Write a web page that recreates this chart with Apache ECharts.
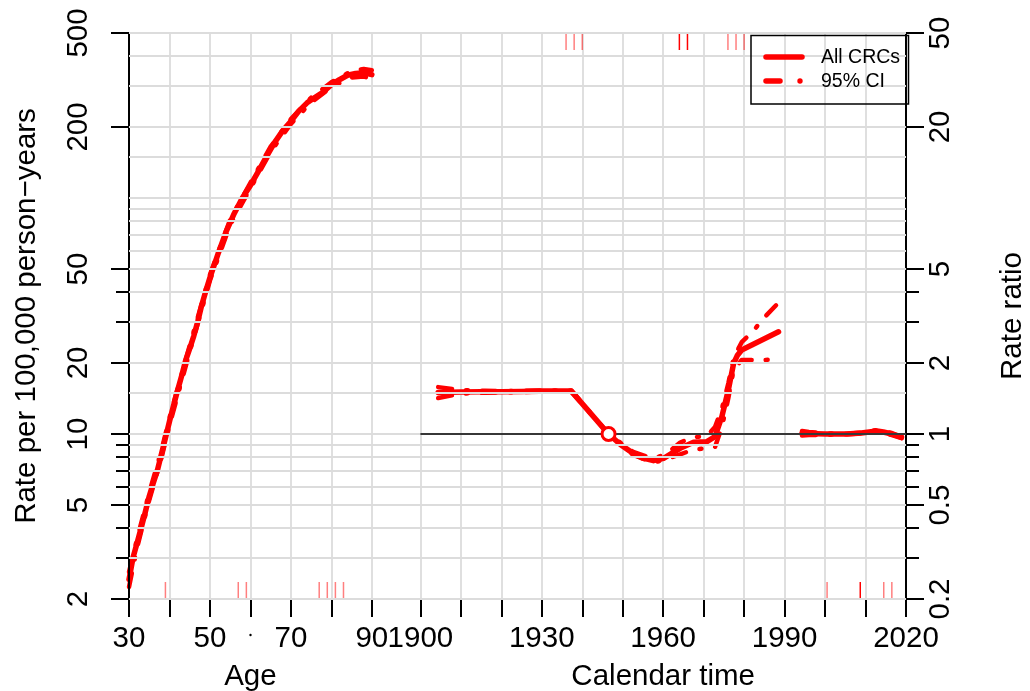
<!DOCTYPE html>
<html><head><meta charset="utf-8">
<script src="https://cdn.jsdelivr.net/npm/echarts@6/dist/echarts.min.js"></script>
<style>html,body{margin:0;padding:0;background:#fff}#c{width:1030px;height:691px}</style>
</head><body><div id="c"></div>
<script>
// ---- data ----
const ages = [30,31,32,33,34,35,36,37,38,39,40,41,42,43,44,45,46,47,48,49,50,52,54,56,58,60,62,64,66,68,70,72,74,76,78,80,82,84,86,88,90];
const ageRate = [2.42,3.0,3.45,4.0,4.65,5.45,6.2,7.0,8.2,9.6,11.3,13.2,15.3,17.6,20.5,23.0,26.0,30.0,35.3,40.5,46.0,58,72,86,100,113,130,150,172,193,211,234,253,267,281,302,317,331,337,339,333];
const ageCI = [30,32,35,38,40,45,50,55,60,65,70,75,80,85,88,90];
const ageHi = [2.6,3.6,5.65,8.5,11.7,23.7,47.3,81,116,165,216,266,309,345,352,348];
const ageLo = [2.25,3.3,5.25,7.9,10.9,22.3,44.7,77,110,157,206,254,295,324,327,320];

const cohortYear = [1904.4,1910,1915,1920,1925,1930,1937.3,1946.5,1949.5,1952.6,1955,1957.6,1960.1,1962,1964.2,1967.5,1970.8,1972.8,1974.5,1976.1,1977.4,1978.3,1979.4,1988.5];
const cohortRR = [1.50,1.505,1.51,1.51,1.515,1.52,1.52,1.0,0.90,0.828,0.79,0.771,0.789,0.825,0.87,0.922,0.928,0.974,1.184,1.536,1.99,2.15,2.27,2.71];
const cohortCIYear = [1904.4,1908,1912,1916,1920,1925,1930,1937.3,1946.5,1952.6,1957.6,1961,1964.2,1967.5,1970.8,1972.8,1974.5,1976.1,1977.4,1979.4,1982,1985,1988.5];
const cohortHi = [1.58,1.55,1.53,1.525,1.52,1.525,1.53,1.53,1.0,0.84,0.785,0.83,0.92,0.97,0.98,1.07,1.28,1.64,2.10,2.45,2.70,3.12,3.6];
const cohortLo = [1.42,1.46,1.49,1.495,1.50,1.505,1.51,1.51,1.0,0.815,0.757,0.785,0.82,0.86,0.87,0.88,1.07,1.42,1.87,2.06,2.06,2.06,2.07];

const periodYear = [1994.3,1996,2000,2005.4,2009,2012.8,2014.4,2016.5,2018.9];
const periodRR = [1.007,1.005,1.0,1.0,1.01,1.03,1.02,1.0,0.968];
const periodHi = [1.03,1.02,1.007,1.003,1.015,1.04,1.03,1.01,0.975];
const periodLo = [0.985,0.99,0.993,0.997,1.005,1.02,1.01,0.99,0.96];

const refPoint = [1946.5, 1];

const ageRug = [39,57,59,77,79,81,83];
const yearRugBottomFaint = [2000.5,2014.5,2016.5];
const yearRugBottomStrong = [2008.7];
const yearRugTopFaint = [1936,1938,1940,1976,1978,1980];
const yearRugTopStrong = [1964,1966];

const rateMajor = [2,5,10,20,50,200,500];
const rateMinor = [3,4,6,7,8,9,30,40];
const rrMajor = [0.2,0.5,1,2,5,20,50];
const rrMinor = [0.3,0.4,0.6,0.7,0.8,0.9,3,4];
const rateGrid = [2,3,4,5,6,7,8,9,10,15,20,30,40,50,60,70,80,90,100,150,200,300,400,500];
const ageLabels = [30,50,70,90];
const yearLabels = [1900,1930,1960,1990,2020];

const legendNames = ['All CRCs','95% CI'];

// ---- chart ----
const RED = '#ff0000';
const FONT = 'Liberation Sans';
const FS = 29.5;
const PX = 777/192;
const zip = (a,b)=>a.map((v,i)=>[v,b[i]]);
const dash = [14,14,2,14];

const chart = echarts.init(document.getElementById('c'), null, {renderer:'canvas'});

function rug(vals, xi, yi, yBase, dir, color){
  return {type:'custom', xAxisIndex:xi, yAxisIndex:yi, z:4, silent:true,
    data: vals.map(v=>[v, yBase]),
    renderItem:(p, api)=>{
      const c = api.coord([api.value(0), api.value(1)]);
      return {type:'line', shape:{x1:c[0], y1:c[1], x2:c[0], y2:c[1]+dir*17},
        style:{stroke:color, lineWidth:1.5}};
    }};
}

const ciLine = (data, xi, yi)=>({type:'line', xAxisIndex:xi, yAxisIndex:yi, data, showSymbol:false, z:3,
  lineStyle:{color:RED, width:4.5, type:dash, cap:'round', join:'round'}, silent:true});
const mainLine = (data, xi, yi)=>({type:'line', xAxisIndex:xi, yAxisIndex:yi, data, showSymbol:false, z:3,
  lineStyle:{color:RED, width:5.5, cap:'round', join:'round'}, silent:true});

const baseY = {type:'log', logBase:10, splitLine:{show:false}, axisLine:{show:false}};
const gridBase = {top:33, height:566, containLabel:false, outerBoundsMode:'none'};

const option = {
  animation:false,
  backgroundColor:'#fff',
  textStyle:{fontFamily:FONT},
  grid:[
    Object.assign({}, gridBase, {left:129, width:777, show:true, borderColor:'#000', borderWidth:2, backgroundColor:'transparent', z:5}),
    Object.assign({}, gridBase, {left:129, width:60*PX}),
    Object.assign({}, gridBase, {left:129+72*PX, width:120*PX})
  ],
  xAxis:[
    {gridIndex:0, type:'value', min:0, max:1, show:false},
    {gridIndex:1, type:'value', min:30, max:90, interval:10,
      axisLine:{show:false},
      axisTick:{show:true, length:18, lineStyle:{color:'#000', width:2}},
      axisLabel:{fontSize:FS, color:'#000', margin:25, fontFamily:FONT,
        formatter:v=>ageLabels.includes(v)?String(v):''},
      splitLine:{show:true, lineStyle:{color:'#dcdcdc', width:1.8}},
      name:'Age', nameLocation:'middle', nameGap:62.5,
      nameTextStyle:{fontSize:FS, color:'#000', fontFamily:FONT}},
    {gridIndex:2, type:'value', min:1900, max:2020, interval:10,
      axisLine:{show:false},
      axisTick:{show:true, length:18, lineStyle:{color:'#000', width:2}},
      axisLabel:{fontSize:FS, color:'#000', margin:25, fontFamily:FONT,
        formatter:v=>yearLabels.includes(v)?String(v):''},
      splitLine:{show:true, lineStyle:{color:'#dcdcdc', width:1.8}},
      name:'Calendar time', nameLocation:'middle', nameGap:62.5,
      nameTextStyle:{fontSize:FS, color:'#000', fontFamily:FONT}}
  ],
  yAxis:[
    Object.assign({}, baseY, {gridIndex:0, min:2, max:500, position:'left',
      axisLine:{show:true, lineStyle:{color:'#000', width:2}},
      axisTick:{show:true, length:18, customValues:rateMajor, lineStyle:{color:'#000', width:2}},
      axisLabel:{show:true, customValues:rateMajor, rotate:90, fontSize:FS, color:'#000', margin:35, fontFamily:FONT,
        formatter:v=>String(+v.toPrecision(6))},
      name:'Rate per 100,000 person\u2212years', nameLocation:'middle', nameRotate:90, nameGap:87,
      nameTextStyle:{fontSize:FS, color:'#000', fontFamily:FONT}}),
    Object.assign({}, baseY, {gridIndex:0, min:2, max:500, position:'left',
      axisTick:{show:true, length:13, customValues:rateMinor, lineStyle:{color:'#000', width:2}},
      axisLabel:{show:false}}),
    Object.assign({}, baseY, {gridIndex:0, min:0.2, max:50, position:'right',
      axisLine:{show:true, lineStyle:{color:'#000', width:2}},
      axisTick:{show:true, length:18, customValues:rrMajor, lineStyle:{color:'#000', width:2}},
      axisLabel:{show:true, customValues:rrMajor, rotate:90, fontSize:FS, color:'#000', margin:20, fontFamily:FONT,
        formatter:v=>String(+v.toPrecision(6))},
      name:'Rate ratio', nameLocation:'middle', nameRotate:90, nameGap:92,
      nameTextStyle:{fontSize:FS, color:'#000', fontFamily:FONT}}),
    Object.assign({}, baseY, {gridIndex:0, min:0.2, max:50, position:'right',
      axisTick:{show:true, length:13, customValues:rrMinor, lineStyle:{color:'#000', width:2}},
      axisLabel:{show:false}}),
    Object.assign({}, baseY, {gridIndex:1, min:2, max:500, show:false}),
    Object.assign({}, baseY, {gridIndex:2, min:0.2, max:50, show:false})
  ],
  series:[
    {type:'line', xAxisIndex:0, yAxisIndex:0, data:[[0,2]], showSymbol:false, z:1, silent:true,
      lineStyle:{opacity:0},
      markLine:{silent:true, symbol:['none','none'], label:{show:false}, animation:false,
        lineStyle:{color:'#dcdcdc', width:1.8, type:'solid'},
        data: rateGrid.map(v=>({yAxis:v}))}},
    {type:'line', xAxisIndex:2, yAxisIndex:5, data:[[1900,1]], showSymbol:false, z:2, silent:true,
      lineStyle:{opacity:0},
      markLine:{silent:true, symbol:['none','none'], label:{show:false}, animation:false,
        lineStyle:{color:'#000', width:1.5, type:'solid'},
        data:[{yAxis:refPoint[1]}]}},
    ciLine(zip(ageCI, ageHi), 1, 4),
    ciLine(zip(ageCI, ageLo), 1, 4),
    mainLine(zip(ages, ageRate), 1, 4),
    ciLine(zip(cohortCIYear, cohortHi), 2, 5),
    ciLine(zip(cohortCIYear, cohortLo), 2, 5),
    mainLine(zip(cohortYear, cohortRR), 2, 5),
    ciLine(zip(periodYear, periodHi), 2, 5),
    ciLine(zip(periodYear, periodLo), 2, 5),
    mainLine(zip(periodYear, periodRR), 2, 5),
    {type:'scatter', xAxisIndex:2, yAxisIndex:5, data:[refPoint], symbol:'circle', symbolSize:13, z:6, silent:true,
      itemStyle:{color:'#fff', borderColor:RED, borderWidth:3, opacity:1}},
    rug(ageRug, 1, 4, 2, -1, 'rgba(255,0,0,0.5)'),
    rug(yearRugBottomFaint, 2, 5, 0.2, -1, 'rgba(255,0,0,0.5)'),
    rug(yearRugBottomStrong, 2, 5, 0.2, -1, RED),
    rug(yearRugTopFaint, 2, 5, 50, 1, 'rgba(255,0,0,0.5)'),
    rug(yearRugTopStrong, 2, 5, 50, 1, RED)
  ],
  graphic:[
    {type:'rect', left:748.5, top:33, shape:{width:157.5, height:68.5}, style:{fill:'none', stroke:'#000', lineWidth:1.5}, z:10, silent:true},
    {type:'line', shape:{x1:766, y1:57, x2:802, y2:57}, style:{stroke:RED, lineWidth:5.5, lineCap:'round'}, z:10, silent:true},
    {type:'text', x:821, y:58, style:{text:legendNames[0], fontSize:19.5, fontFamily:FONT, fill:'#000', verticalAlign:'middle'}, z:10, silent:true},
    {type:'line', shape:{x1:766, y1:81, x2:780, y2:81}, style:{stroke:RED, lineWidth:5.5, lineCap:'round'}, z:10, silent:true},
    {type:'circle', shape:{cx:800, cy:81, r:2.7}, style:{fill:RED}, z:10, silent:true},
    {type:'text', x:821, y:82, style:{text:legendNames[1], fontSize:19.5, fontFamily:FONT, fill:'#000', verticalAlign:'middle'}, z:10, silent:true},
    {type:'circle', shape:{cx:250.5, cy:635, r:1.2}, style:{fill:'#000'}, z:10, silent:true}
  ]
};
chart.setOption(option);
</script></body></html>
